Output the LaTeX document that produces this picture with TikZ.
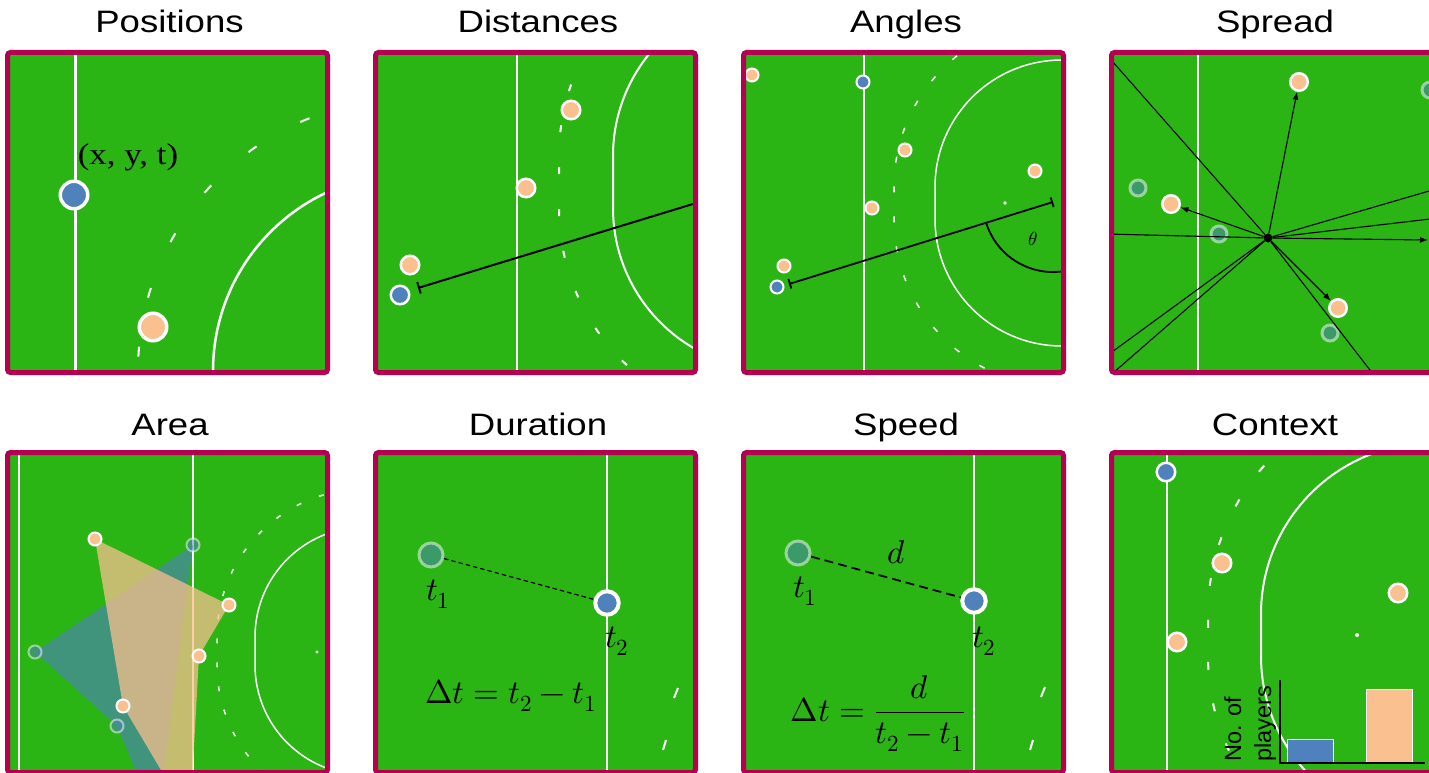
\documentclass[tikz,border=0pt]{standalone}
\usepackage{fontspec}
\usepackage{unicode-math}
\newfontfamily\titlefont{Liberation Sans}
\newfontfamily\serfont{Liberation Serif}
\usetikzlibrary{arrows.meta}
\definecolor{fieldgreen}{RGB}{42,181,20}
\definecolor{framecol}{RGB}{181,0,82}
\definecolor{pblue}{RGB}{79,129,189}
\definecolor{porange}{RGB}{250,192,143}
\newcommand{\Dpath}[4]{(#1,#2-#4) arc[start angle=270,end angle=180,radius=#4] -- ++(0,#3-#2) arc[start angle=180,end angle=90,radius=#4]}
\tikzset{
  frame/.style={draw=framecol,line width=5pt,rounded corners=3pt},
  wline/.style={draw=white,line width=#1},
  dmark/.style 2 args={draw=white,line width=2pt,dash pattern=on #1pt off #2pt},
  pl/.style n args={3}{circle,inner sep=0pt,minimum size=#2pt,fill=#1,draw=white,line width=#3pt},
  fpl/.style 2 args={pl={pblue}{#1}{#2},opacity=0.5},
  ttl/.style={font=\titlefont\fontsize{31}{37}\selectfont,anchor=base},
  sline/.style={draw=black,line width=1.1pt},
  stip/.style={-{Latex[length=8pt,width=6pt]}},
  mlab/.style={font=\fontsize{33}{40}\selectfont,anchor=base,inner sep=0pt},
}
\begin{document}
\begin{tikzpicture}[x=1pt,y=-1pt]
\useasboundingbox (0,0) rectangle (1429,773);
\clip (0,0) rectangle (1429,773);
\fill[white] (0,0) rectangle (1429,773);

% titles
\node[ttl] (t1) at (169.5,33) {\scalebox{1.18}[1]{Positions}};
\node[ttl] (t2) at (538,33) {\scalebox{1.18}[1]{Distances}};
\node[ttl] (t3) at (906,33) {\scalebox{1.18}[1]{Angles}};
\node[ttl] (t4) at (1275,33) {\scalebox{1.18}[1]{Spread}};
\node[ttl] (t5) at (170,435) {\scalebox{1.18}[1]{Area}};
\node[ttl] (t6) at (538,435) {\scalebox{1.18}[1]{Duration}};
\node[ttl] (t7) at (906,435) {\scalebox{1.18}[1]{Speed}};
\node[ttl] (t8) at (1275,435) {\scalebox{1.18}[1]{Context}};

% ---------- Panel 1: Positions
\begin{scope}
\clip (10,55) rectangle (325,370);
\fill[fieldgreen] (10,55) rectangle (325,370);
\draw[wline=3pt] (75,40) -- (75,390);
\draw[wline=2.5pt] \Dpath{410}{371}{421}{197};
\draw[dmark={10}{50},dash phase=17pt] \Dpath{410}{371}{421}{272};
\node[pl={pblue}{27.5}{3.5}] (p1b) at (74,195) {};
\node[pl={porange}{27.5}{3.5}] (p1o) at (153,327) {};
\node[font=\serfont\fontsize{30}{36}\selectfont] (p1l) at (128,157) {\scalebox{1.16}[1]{(x, y, t)}};
\end{scope}
\draw[frame] (7.5,52.5) rectangle (327.5,372.5);

% ---------- Panel 2: Distances
\begin{scope}
\clip (378,55) rectangle (693,370);
\fill[fieldgreen] (378,55) rectangle (693,370);
\draw[wline=2.5pt] (517,40) -- (517,390);
\draw[wline=2pt] \Dpath{775}{156}{208}{162};
\draw[dmark={7}{35},dash phase=27.5pt] \Dpath{775}{156}{208}{216};
\node[pl={porange}{18.5}{2.5}] (p2o1) at (571,110) {};
\node[pl={porange}{18.5}{2.5}] (p2o2) at (526,188) {};
\node[pl={porange}{18.5}{2.5}] (p2o3) at (410,265) {};
\node[pl={pblue}{18.5}{2.5}] (p2b) at (400,295) {};
\coordinate (d2s) at (418,288);
\coordinate (d2e) at (780,177.4);
\draw[{Bar[width=12pt]}-,line width=2pt,black] (d2s) -- (d2e);
\end{scope}
\draw[frame] (375.5,52.5) rectangle (695.5,372.5);

% ---------- Panel 3: Angles
\begin{scope}
\clip (746,55) rectangle (1061,370);
\fill[fieldgreen] (746,55) rectangle (1061,370);
\draw[wline=2pt] (864,40) -- (864,390);
\draw[wline=1.5pt] \Dpath{1062}{187}{219}{127};
\draw[dmark={6}{24},line width=1.5pt,dash phase=6.6pt] \Dpath{1062}{187}{219}{168};
\fill[white] (1005,203) circle[radius=1.8];
\node[pl={porange}{13}{2}] (p3o1) at (752,75) {};
\node[pl={pblue}{13}{2}] (p3b1) at (863,82) {};
\node[pl={porange}{13}{2}] (p3o2) at (905,150) {};
\node[pl={porange}{13}{2}] (p3o3) at (1035,171) {};
\node[pl={porange}{13}{2}] (p3o4) at (872,208) {};
\node[pl={porange}{13}{2}] (p3o5) at (784,266) {};
\node[pl={pblue}{13}{2}] (p3b2) at (777,287) {};
\coordinate (a3s) at (789,284);
\coordinate (a3e) at (1053,202);
\draw[{Bar[width=10pt]}-{Bar[width=10pt]},line width=1.8pt,black] (a3s) -- (a3e);
\draw[line width=1.8pt,black] (a3e) ++(162.7:70) arc[start angle=162.7,end angle=80,radius=70];
\node[font=\fontsize{19}{22}\selectfont] (th3) at (1033,239) {$\theta$};
\end{scope}
\draw[frame] (743.5,52.5) rectangle (1063.5,372.5);

% ---------- Panel 4: Spread
\begin{scope}
\clip (1114,55) rectangle (1429,370);
\fill[fieldgreen] (1114,55) rectangle (1429,370);
\draw[wline=2pt] (1198,40) -- (1198,390);
\node[fpl={16}{3}] (s4f1) at (1138,188) {};
\node[fpl={16}{3}] (s4f2) at (1219,234) {};
\node[fpl={16}{3}] (s4f3) at (1330,333) {};
\node[fpl={16}{3}] (s4f4) at (1430,90) {};
\node[pl={porange}{17.5}{2.5}] (s4o1) at (1299,82) {};
\node[pl={porange}{17.5}{2.5}] (s4o2) at (1171,204) {};
\node[pl={porange}{17.5}{2.5}] (s4o3) at (1338,308) {};
\node[circle,fill=black,inner sep=0pt,minimum size=9pt] (c4) at (1268,238) {};
\coordinate (s4e1) at (1090,36);
\coordinate (s4e2) at (1090,233.6);
\coordinate (s4e3) at (1090,368);
\coordinate (s4e4) at (1090,393);
\coordinate (s4e5) at (1400,409);
\coordinate (s4e6) at (1460,182);
\coordinate (s4e7) at (1460,215.5);
\coordinate (s4ar) at (1428,240);
\foreach \e in {s4e1,s4e2,s4e3,s4e4,s4e5,s4e6,s4e7} \draw[sline] (c4) -- (\e);
\draw[sline,stip] (c4) -- (s4o1);
\draw[sline,stip] (c4) -- (s4o2);
\draw[sline,stip] (c4) -- (s4o3);
\draw[sline,stip] (c4) -- (s4ar);
\end{scope}
\draw[frame] (1111.5,52.5) rectangle (1431.5,372.5);

% ---------- Panel 5: Area
\begin{scope}
\clip (10,455) rectangle (325,770);
\fill[fieldgreen] (10,455) rectangle (325,770);
\draw[wline=1.8pt] (19,440) -- (19,790);
\draw[wline=1.8pt] (193,440) -- (193,790);
\draw[wline=1.5pt] \Dpath{365}{637}{665}{110};
\draw[dmark={5}{19},line width=1.5pt,dash phase=6.1pt] \Dpath{365}{637}{665}{148};
\fill[white] (317,652) circle[radius=1.6];
\coordinate (a5f1) at (193,545);
\coordinate (a5f2) at (35,652);
\coordinate (a5f3) at (117,726);
\coordinate (a5fv) at (157,821);
\coordinate (a5o1) at (95,539);
\coordinate (a5o2) at (229,605);
\coordinate (a5o3) at (199,656);
\coordinate (a5ov) at (190,819);
\coordinate (a5o4) at (123,706);
\fill[pblue,opacity=0.62] (a5f1) -- (a5f2) -- (a5f3) -- (a5fv) -- cycle;
\fill[porange,opacity=0.74] (a5o1) -- (a5o2) -- (a5o3) -- (a5ov) -- (a5o4) -- cycle;
\node[fpl={13}{2}] (n5f1) at (a5f1) {};
\node[fpl={13}{2}] (n5f2) at (a5f2) {};
\node[fpl={13}{2}] (n5f3) at (a5f3) {};
\node[pl={porange}{13}{2}] (n5o1) at (a5o1) {};
\node[pl={porange}{13}{2}] (n5o2) at (a5o2) {};
\node[pl={porange}{13}{2}] (n5o3) at (a5o3) {};
\node[pl={porange}{13}{2}] (n5o4) at (a5o4) {};
\end{scope}
\draw[frame] (7.5,452.5) rectangle (327.5,772.5);

% ---------- Panel 6: Duration
\begin{scope}
\clip (378,455) rectangle (693,770);
\fill[fieldgreen] (378,455) rectangle (693,770);
\draw[wline=2pt] (607,440) -- (607,790);
\draw[wline=2pt] (678,688) -- (674,698);
\draw[wline=2pt] (666,740) -- (663,750);
\node[fpl={24}{3}] (f6) at (431,555) {};
\node[pl={pblue}{23.5}{4}] (b6) at (607,603) {};
\draw[black,line width=1.2pt,dash pattern=on 4.5pt off 3pt] (f6) -- (b6);
\node[mlab] (t6a) at (438,600) {$t_1$};
\node[mlab] (t6b) at (617,647) {$t_2$};
\node[mlab] (t6c) at (511,703) {$\Delta t = t_2 - t_1$};
\end{scope}
\draw[frame] (375.5,452.5) rectangle (695.5,772.5);

% ---------- Panel 7: Speed
\begin{scope}
\clip (746,455) rectangle (1061,770);
\fill[fieldgreen] (746,455) rectangle (1061,770);
\draw[wline=2pt] (974,440) -- (974,790);
\draw[wline=2pt] (1045,687) -- (1041,697);
\draw[wline=2pt] (1033,740) -- (1030,750);
\node[fpl={24}{3}] (f7) at (798,553) {};
\node[pl={pblue}{23.5}{4}] (b7) at (974,601) {};
\draw[black,line width=1.8pt,dash pattern=on 9pt off 5pt] (f7) -- (b7);
\node[mlab] (t7d) at (896,563) {$d$};
\node[mlab] (t7a) at (805,597) {$t_1$};
\node[mlab] (t7b) at (984,647) {$t_2$};
\node[mlab] (t7c) at (878,721) {$\displaystyle \Delta t = \frac{d}{t_2 - t_1}$};
\end{scope}
\draw[frame] (743.5,452.5) rectangle (1063.5,772.5);

% ---------- Panel 8: Context
\begin{scope}
\clip (1114,455) rectangle (1429,770);
\fill[fieldgreen] (1114,455) rectangle (1429,770);
\draw[wline=2pt] (1167,440) -- (1167,790);
\draw[wline=2pt] \Dpath{1432}{614}{656}{171};
\draw[dmark={8}{34},dash phase=20.3pt] \Dpath{1432}{614}{656}{224};
\fill[white] (1357,635) circle[radius=2];
\node[pl={pblue}{18.5}{2.5}] (c8b) at (1166,472) {};
\node[pl={porange}{18.5}{2.5}] (c8o1) at (1222,563) {};
\node[pl={porange}{18.5}{2.5}] (c8o2) at (1177,642) {};
\node[pl={porange}{18.5}{2.5}] (c8o3) at (1398,593) {};
\draw[draw=white,fill=pblue,line width=1pt] (1287,739) rectangle (1333,763);
\draw[draw=white,fill=porange,line width=1pt] (1366,689) rectangle (1412,763);
\coordinate (ax0) at (1280,763);
\coordinate (axy) at (1280,680);
\coordinate (axx) at (1425,763);
\draw[black,line width=2.5pt] (axy) -- (ax0) -- (axx);
\node[rotate=90,align=left,inner sep=0pt,font=\titlefont\fontsize{23.5}{30}\selectfont] (ylab) at (1250,723.5) {No. of\\players};
\end{scope}
\draw[frame] (1111.5,452.5) rectangle (1431.5,772.5);
\end{tikzpicture}
\end{document}
